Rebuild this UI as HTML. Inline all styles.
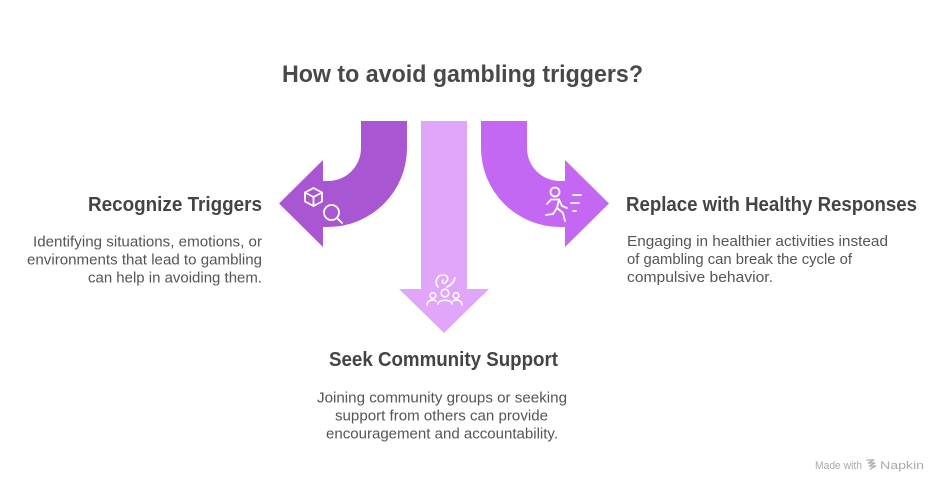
<!DOCTYPE html>
<html>
<head>
<meta charset="utf-8">
<style>
  html, body { margin:0; padding:0; background:#fff; }
  svg { display:block; }
  text { font-family: "Liberation Sans", Arial, sans-serif; }
</style>
</head>
<body>
<svg width="948" height="493" viewBox="0 0 948 493" xmlns="http://www.w3.org/2000/svg">
  <rect width="948" height="493" fill="#ffffff"/>

  <!-- Title -->
  <text x="282" y="82" font-size="24" font-weight="bold" fill="#484848" textLength="361" lengthAdjust="spacingAndGlyphs">How to avoid gambling triggers?</text>

  <!-- Middle arrow -->
  <path d="M421,121 L467,121 L467,289 L489,289 L444,333 L399,289 L421,289 Z" fill="#E1A6FA"/>

  <!-- Left arrow -->
  <path d="M361,121 L361,148 A33,33 0 0 1 328,181 L323,181 L323,160 L279,203.5 L323,247 L323,227 L328,227 A79,79 0 0 0 407,148 L407,121 Z" fill="#A956D3"/>

  <!-- Right arrow -->
  <path d="M527,121 L527,148 A33,33 0 0 0 560,181 L565,181 L565,160 L609,203.5 L565,247 L565,227 L560,227 A79,79 0 0 1 481,148 L481,121 Z" fill="#C467F2"/>

  <!-- Left icon: cube + magnifier -->
  <g fill="none" stroke="#ffffff" stroke-width="1.8" stroke-linejoin="round" stroke-linecap="round">
    <path d="M313.5,188 L322,192.5 L322,201.5 L313.5,206 L305,201.5 L305,192.5 Z"/>
    <path d="M305,192.5 L313.5,197 L322,192.5 M313.5,197 L313.5,206"/>
    <circle cx="331.5" cy="212.5" r="7.5"/>
    <path d="M337,218 L342,223"/>
  </g>

  <!-- Right icon: runner -->
  <g fill="none" stroke="#ffffff" stroke-width="1.8" stroke-linejoin="round" stroke-linecap="round">
    <circle cx="555" cy="192" r="4.5"/>
    <path d="M547,204 L551,199.5 L559,199.5 L562,206 L567,208"/>
    <path d="M559,199.5 L557,208 L563,213 L565,221"/>
    <path d="M557,208 L553,214 L546,215"/>
    <path d="M573,195 L581,195 M571,203 L579,203 M573,211 L576,211"/>
  </g>

  <!-- Middle icon: community -->
  <g fill="none" stroke="#ffffff" stroke-width="1.6" stroke-linejoin="round" stroke-linecap="round">
    <path d="M438,287 C434,282 437,275 443,275 C448,275 449,279 446,282 C444,285 441,283 443,280 M447,287 C451,285 454,282 455,278"/>
    <circle cx="445" cy="293" r="3.8"/>
    <circle cx="433" cy="295.5" r="2.8"/>
    <circle cx="456" cy="295.5" r="2.8"/>
    <path d="M438,304 C438,299 452,299 452,304"/>
    <path d="M427,305 C427,300 433,299 436,301"/>
    <path d="M462,305 C462,300 456,299 453,301"/>
  </g>

  <!-- Left text -->
  <text x="262" y="211" font-size="20" font-weight="bold" fill="#444444" text-anchor="end" textLength="174" lengthAdjust="spacingAndGlyphs">Recognize Triggers</text>
  <text x="262" y="246.5" font-size="14.5" fill="#555555" text-anchor="end" textLength="229" lengthAdjust="spacingAndGlyphs">Identifying situations, emotions, or</text>
  <text x="262" y="264.5" font-size="14.5" fill="#555555" text-anchor="end" textLength="235" lengthAdjust="spacingAndGlyphs">environments that lead to gambling</text>
  <text x="262" y="282.5" font-size="14.5" fill="#555555" text-anchor="end" textLength="174" lengthAdjust="spacingAndGlyphs">can help in avoiding them.</text>

  <!-- Right text -->
  <text x="626" y="211" font-size="20" font-weight="bold" fill="#444444" textLength="291" lengthAdjust="spacingAndGlyphs">Replace with Healthy Responses</text>
  <text x="627" y="246" font-size="14.5" fill="#555555" textLength="261" lengthAdjust="spacingAndGlyphs">Engaging in healthier activities instead</text>
  <text x="627" y="264" font-size="14.5" fill="#555555" textLength="225" lengthAdjust="spacingAndGlyphs">of gambling can break the cycle of</text>
  <text x="627" y="282" font-size="14.5" fill="#555555" textLength="146" lengthAdjust="spacingAndGlyphs">compulsive behavior.</text>

  <!-- Bottom text -->
  <text x="329" y="366" font-size="20" font-weight="bold" fill="#444444" textLength="229" lengthAdjust="spacingAndGlyphs">Seek Community Support</text>
  <text x="317" y="402.5" font-size="14.5" fill="#555555" textLength="250" lengthAdjust="spacingAndGlyphs">Joining community groups or seeking</text>
  <text x="335" y="420.5" font-size="14.5" fill="#555555" textLength="213" lengthAdjust="spacingAndGlyphs">support from others can provide</text>
  <text x="326" y="438.5" font-size="14.5" fill="#555555" textLength="232" lengthAdjust="spacingAndGlyphs">encouragement and accountability.</text>

  <!-- Made with Napkin -->
  <text x="815" y="469" font-size="11" fill="#aaaaaa" textLength="47" lengthAdjust="spacingAndGlyphs">Made with</text>
  <g fill="none" stroke="#aaaaaa" stroke-width="1.2" stroke-linecap="round">
    <path d="M867,460 L874,460 L868,463 L875,463 L869,466 L876,466 L870,469"/>
  </g>
  <text x="880" y="469" font-size="11" fill="#aaaaaa" textLength="44" lengthAdjust="spacingAndGlyphs">Napkin</text>
</svg>
</body>
</html>
